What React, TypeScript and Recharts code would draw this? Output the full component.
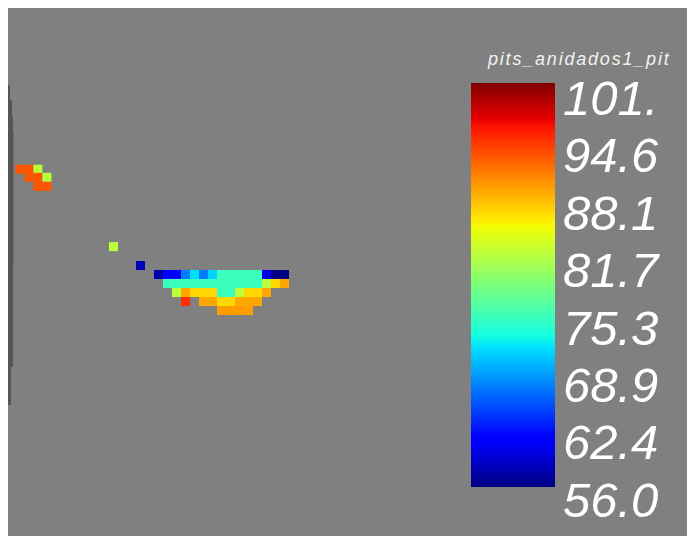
import { ScatterChart, Scatter, XAxis, YAxis, Customized } from "recharts";

// scalar range of the colour map
const VMIN = 56.0;
const VMAX = 101.0;
const scalarTitle = "pits_anidados1_pit";
const colorTicks = ["101.", "94.6", "88.1", "81.7", "75.3", "68.9", "62.4", "56.0"];

// cell values per row (null = empty cell)
const rowTopA: (number | null)[] = [92.9, 92.9, 82];
const rowTopB: (number | null)[] = [92.9, 92.9, 82];
const rowTopC: (number | null)[] = [92.9, 92.9];
const loneGreen: (number | null)[] = [82];
const loneBlue: (number | null)[] = [58.3];
const row1: (number | null)[] = [57.7, 61.2, 61.2, 67.2, 71.5, 67.2, 71, 74.9, 74.9, 74.9, 74.9, 74.9, 60.3, 56.1, 56.1];
const row2: (number | null)[] = [74.9, 74.9, 74.9, 74.9, 74.9, 74.9, 74.9, 74.9, 74.9, 74.9, 74.9, 82, 86.7, 89];
const row3: (number | null)[] = [82, 89, 86.7, 86.7, 86.7, 74.9, 74.9, 82, 86.7, 86.7, 89];
const row4: (number | null)[] = [94.7, null, 89, 89, 86.7, 86.7, 89, 89, 89];
const row5: (number | null)[] = [89.5, 89.5, 89.5, 89.5];

type Cell = { x: number; y: number; v: number };

const toCells = (y: number, x0: number, values: (number | null)[]): Cell[] =>
  values.flatMap((v, i) => (v == null ? [] : [{ x: x0 + i, y, v }]));

const cells: Cell[] = [
  ...toCells(-10.7, -15.4, rowTopA),
  ...toCells(-9.8, -14.4, rowTopB),
  ...toCells(-8.8, -13.4, rowTopC),
  ...toCells(-2.1, -5, loneGreen),
  ...toCells(0, -2, loneBlue),
  ...toCells(1, 0, row1),
  ...toCells(2, 1, row2),
  ...toCells(3, 2, row3),
  ...toCells(4, 3, row4),
  ...toCells(5, 7, row5),
];

// jet colour map, piecewise linear
const jetR = [[0, 0], [0.35, 0], [0.66, 1], [0.89, 1], [1, 0.5]];
const jetG = [[0, 0], [0.125, 0], [0.375, 1], [0.64, 1], [0.91, 0], [1, 0]];
const jetB = [[0, 0.5], [0.11, 1], [0.34, 1], [0.65, 0], [1, 0]];

const interp = (pts: number[][], t: number) => {
  for (let i = 1; i < pts.length; i++) {
    if (t <= pts[i][0]) {
      const [t0, v0] = pts[i - 1];
      const [t1, v1] = pts[i];
      return v0 + ((t - t0) / (t1 - t0)) * (v1 - v0);
    }
  }
  return pts[pts.length - 1][1];
};

const jetT = (t: number) => {
  const c = Math.max(0, Math.min(1, t));
  const r = Math.round(interp(jetR, c) * 255);
  const g = Math.round(interp(jetG, c) * 255);
  const b = Math.round(interp(jetB, c) * 255);
  return `rgb(${r},${g},${b})`;
};
const jet = (v: number) => jetT((v - VMIN) / (VMAX - VMIN));

const CELL = 9;

const CellShape = (props: any) => {
  const { cx, cy, payload } = props;
  return (
    <rect
      x={cx - CELL / 2}
      y={cy - CELL / 2}
      width={CELL}
      height={CELL}
      fill={jet(payload.v)}
    />
  );
};

// dark edge of the surface on the far left
const edgeStrip = [
  [77, 92, 2],
  [92, 109, 4],
  [109, 125, 5],
  [125, 254, 5.5],
  [254, 359, 5],
  [359, 397, 3],
];

const Overlay = () => {
  const stops = [0, 0.11, 0.125, 0.34, 0.35, 0.375, 0.5, 0.64, 0.65, 0.66, 0.75, 0.89, 0.91, 1];
  return (
    <g>
      <defs>
        <linearGradient id="jetBar" x1="0" y1="1" x2="0" y2="0">
          {stops.map((s) => (
            <stop key={s} offset={s} stopColor={jetT(s)} />
          ))}
        </linearGradient>
      </defs>
      {edgeStrip.map(([y1, y2, w], i) => (
        <rect key={i} x={0} y={y1} width={w} height={y2 - y1} fill="#555555" />
      ))}
      <rect x={463} y={75} width={84} height={404} fill="url(#jetBar)" />
      <text
        x={480}
        y={57}
        fill="#f2f2f2"
        fontFamily="Liberation Sans, Arial, sans-serif"
        fontStyle="italic"
        fontSize={18}
        letterSpacing={1.8}
      >
        {scalarTitle}
      </text>
      {colorTicks.map((t, i) => (
        <text
          key={t}
          x={555}
          y={107 + i * 57.4}
          fill="#ffffff"
          fontFamily="Liberation Sans, Arial, sans-serif"
          fontStyle="italic"
          fontSize={49}
        >
          {t}
        </text>
      ))}
    </g>
  );
};

export default function App() {
  return (
    <ScatterChart
      width={687}
      height={528}
      margin={{ top: 0, right: 0, bottom: 0, left: 0 }}
      style={{ background: "#808080" }}
    >
      <XAxis type="number" dataKey="x" domain={[-16.722, 59.611]} allowDataOverflow hide />
      <YAxis type="number" dataKey="y" domain={[-28.611, 30.056]} reversed allowDataOverflow hide />
      <Customized component={<Overlay />} />
      <Scatter data={cells} shape={<CellShape />} isAnimationActive={false} />
    </ScatterChart>
  );
}
